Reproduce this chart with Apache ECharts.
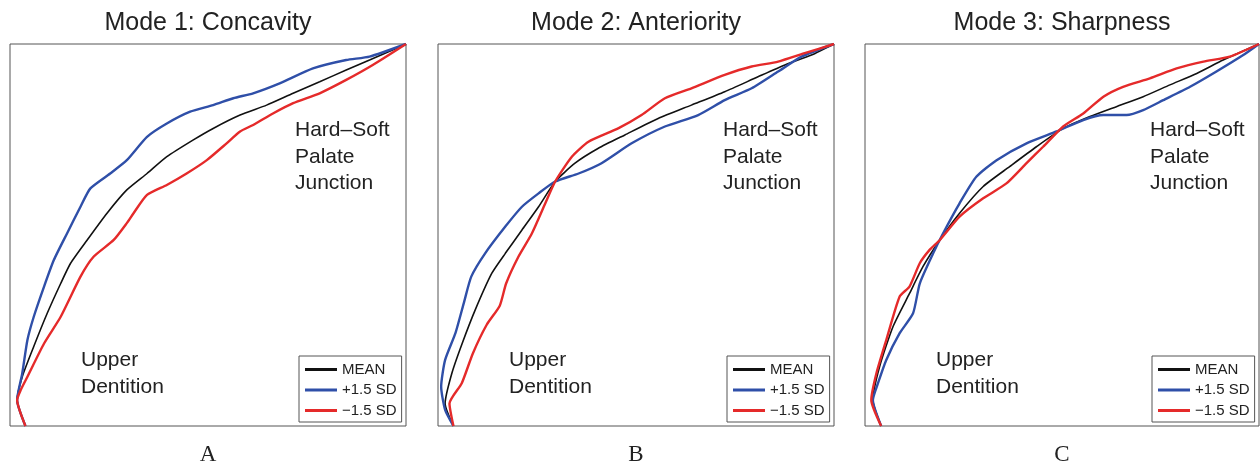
<!DOCTYPE html>
<html>
<head>
<meta charset="utf-8">
<script src="https://cdn.jsdelivr.net/npm/echarts@6/dist/echarts.min.js"></script>
<style>
html,body{margin:0;padding:0;background:#fff}
#chart{width:1260px;height:463px}
</style>
</head>
<body>
<div id="chart"></div>
<script>
// palate outlines, normalised 0-100 inside each box (x: anterior->posterior, y: up)
const panelTitles = ['Mode 1: Concavity', 'Mode 2: Anteriority', 'Mode 3: Sharpness'];
const panelLetters = ['A', 'B', 'C'];
const seriesNames = ['MEAN', '+1.5 SD', '\u22121.5 SD'];

const concavityMean = [[3.9,0],[1.8,6.8],[3.1,12.9],[6.0,20.8],[9.4,29.5],[12.8,37.3],[15.3,42.6],[19.5,48.7],[24.5,55.7],[29.5,61.8],[34.6,66.1],[39.6,70.5],[46.3,74.9],[51.3,77.9],[58.1,81.4],[64.8,84.0],[71.5,87.1],[78.2,90.1],[84.9,93.2],[90.8,95.8],[96.6,98.4],[100,100]];
const concavityPlus = [[3.9,0],[1.8,6.8],[3.1,13.8],[4.4,22.5],[6.0,28.6],[8.6,36.5],[11.1,43.5],[14.4,50.4],[17.8,57.4],[20.3,62.2],[25.3,66.1],[29.5,69.6],[34.6,75.7],[39.6,79.2],[45.5,82.3],[51.3,84.0],[56.4,85.8],[61.4,87.1],[68.1,89.7],[76.5,93.6],[84.9,95.8],[90.8,96.7],[100,100]];
const concavityMinus = [[3.9,0],[1.8,6.8],[2.7,9.4],[4.4,12.9],[8.6,21.6],[12.8,28.6],[17.8,39.1],[21.1,44.3],[26.2,48.7],[29.5,53.1],[31.2,55.7],[34.6,60.5],[39.6,63.1],[44.6,66.1],[49.7,69.6],[54.7,74.0],[58.1,77.1],[61.4,78.8],[66.4,81.8],[71.5,84.5],[78.2,87.1],[84.9,90.6],[91.6,94.5],[100,100]];

const anteriorityMean = [[3.9,0],[1.8,5.9],[3.5,13.8],[6.1,21.6],[9.4,30.4],[13.6,40.0],[17.0,45.2],[21.2,51.3],[25.4,57.4],[29.6,64.0],[34.6,68.8],[40.5,72.7],[47.2,76.2],[55.6,80.5],[64.0,84.0],[72.4,87.5],[80.8,91.4],[87.6,94.5],[94.3,97.1],[100,100]];
const anteriorityPlus = [[3.9,0],[1.8,4.2],[0.8,10.3],[1.8,17.3],[4.4,24.3],[6.6,32.5],[8.4,39.1],[11.9,45.2],[17.0,52.2],[21.2,57.4],[25.4,60.9],[29.6,64.0],[35.5,66.1],[41.3,68.8],[48.9,74.0],[57.3,78.4],[65.7,81.4],[72.4,85.3],[79.2,88.4],[85.9,92.8],[91.8,96.7],[100,100]];
const anteriorityMinus = [[3.9,0],[2.9,5.9],[6.0,11.2],[8.8,19.0],[12.3,26.5],[15.6,31.5],[17.2,37.3],[20.3,44.3],[23.7,50.4],[27.1,58.3],[29.6,64.0],[33.8,70.5],[38.0,74.4],[45.5,77.9],[51.4,81.4],[57.3,85.8],[64.0,88.4],[72.4,91.9],[79.2,94.1],[85.9,95.4],[92.6,97.6],[100,100]];

const sharpnessMean = [[4.1,0],[2.0,6.8],[3.7,15.5],[7.1,26.0],[11.3,34.7],[14.7,41.7],[19.0,48.7],[24.0,55.7],[30.0,62.7],[36.7,67.9],[43.5,73.1],[50.3,77.9],[57.1,81.0],[63.8,83.6],[70.6,86.2],[77.4,89.3],[84.2,92.3],[90.9,95.8],[100,100]];
const sharpnessPlus = [[4.1,0],[2.0,6.8],[3.3,11.2],[5.4,17.3],[8.8,24.3],[12.2,29.5],[13.9,37.3],[17.3,45.2],[19.8,50.4],[24.0,58.3],[28.3,65.3],[33.4,69.6],[41.0,74.0],[48.6,77.1],[55.4,80.1],[60.5,81.4],[66.4,81.4],[70.6,82.7],[75.7,85.3],[82.5,88.8],[89.2,92.8],[96.0,97.1],[100,100]];
const sharpnessMinus = [[4.1,0],[1.6,6.8],[2.9,13.8],[5.4,22.5],[8.8,33.9],[11.3,36.5],[13.9,42.6],[16.4,46.1],[19.0,48.7],[24.0,54.8],[30.0,59.6],[35.9,63.5],[41.0,68.8],[45.2,73.1],[50.3,78.4],[55.4,81.8],[60.5,86.2],[65.5,88.8],[72.3,91.0],[79.1,93.6],[85.9,95.4],[92.6,96.7],[100,100]];

const panelData = [
    [concavityMean, concavityPlus, concavityMinus],
    [anteriorityMean, anteriorityPlus, anteriorityMinus],
    [sharpnessMean, sharpnessPlus, sharpnessMinus]
];

const boxes = [
    {left: 10, width: 396},
    {left: 438, width: 396},
    {left: 865, width: 394}
];
const lineColors = ['#111111', '#2f4fa8', '#e52a2a'];
const lineWidths = [1.6, 2.4, 2.4];
const sansFont = '"Liberation Sans", Arial, sans-serif';

let chart = echarts.init(document.getElementById('chart'));

let grids = [], xAxes = [], yAxes = [], series = [], legends = [], texts = [];
boxes.forEach((b, i) => {
    grids.push({
        left: b.left, top: 44, width: b.width, height: 382,
        show: true, borderColor: '#555', borderWidth: 1, backgroundColor: 'transparent'
    });
    xAxes.push({type: 'value', gridIndex: i, min: 0, max: 100, show: false});
    yAxes.push({type: 'value', gridIndex: i, min: 0, max: 100, show: false});
    panelData[i].forEach((d, k) => {
        series.push({
            type: 'line',
            name: seriesNames[k],
            xAxisIndex: i,
            yAxisIndex: i,
            data: d,
            symbol: 'none',
            smooth: 0.2,
            color: lineColors[k],
            lineStyle: {color: lineColors[k], width: lineWidths[k]},
            z: 2 + k
        });
    });
    legends.push({
        orient: 'vertical',
        left: b.left + b.width - 107,
        top: 356,
        icon: 'rect',
        itemWidth: 32,
        itemHeight: 3,
        itemGap: 5.5,
        padding: [6, 5, 4, 6],
        borderColor: '#555',
        borderWidth: 1,
        selectedMode: false,
        data: seriesNames,
        textStyle: {fontSize: 15, color: '#222', fontFamily: sansFont}
    });
    let cx = b.left + b.width / 2;
    texts.push({
        type: 'text', x: cx, y: 23.5,
        style: {text: panelTitles[i], font: '25px ' + sansFont, fill: '#222', textAlign: 'center', textVerticalAlign: 'middle'}
    });
    texts.push({
        type: 'text', x: cx, y: 455,
        style: {text: panelLetters[i], font: '23px "Liberation Serif", "Times New Roman", serif', fill: '#222', textAlign: 'center', textVerticalAlign: 'middle'}
    });
    texts.push({
        type: 'text', x: b.left + 285, y: 117,
        style: {text: 'Hard\u2013Soft\nPalate\nJunction', font: '21px ' + sansFont, lineHeight: 26.5, fill: '#222', textAlign: 'left', textVerticalAlign: 'top'}
    });
    texts.push({
        type: 'text', x: b.left + 71, y: 347,
        style: {text: 'Upper\nDentition', font: '21px ' + sansFont, lineHeight: 26.5, fill: '#222', textAlign: 'left', textVerticalAlign: 'top'}
    });
});

let option = {
    animation: false,
    backgroundColor: '#fff',
    grid: grids,
    xAxis: xAxes,
    yAxis: yAxes,
    legend: legends,
    series: series,
    graphic: texts
};
chart.setOption(option);
</script>
</body>
</html>
